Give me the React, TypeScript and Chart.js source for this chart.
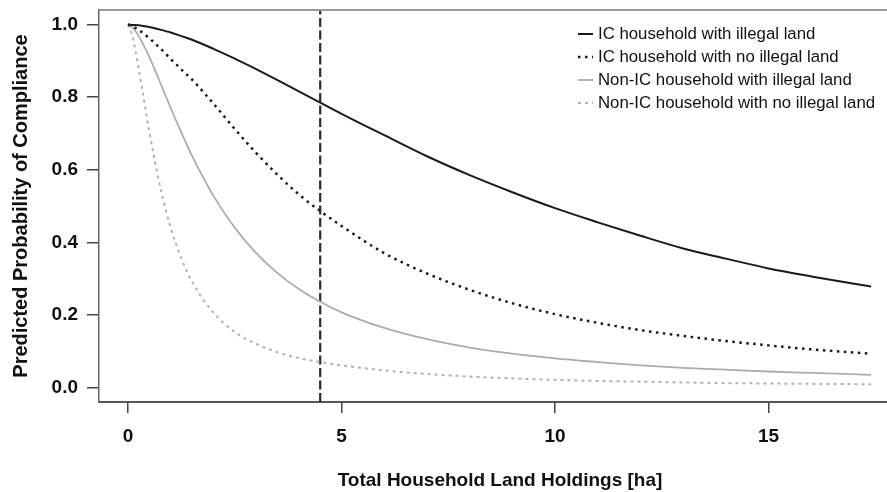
import React, { useEffect, useRef } from "react";
import { Chart, registerables } from "chart.js";

Chart.register(...registerables);

// ---- data ----
const X_VALUES = [0, 0.1, 0.25, 0.5, 0.75, 1, 1.25, 1.5, 2, 2.5, 3, 3.5, 4, 4.5, 5, 6, 7, 8, 9, 10, 11, 12, 13, 14, 15, 16, 17.4];

const IC_ILLEGAL = [1.0, 0.999, 0.998, 0.993, 0.986, 0.978, 0.968, 0.958, 0.933, 0.906, 0.877, 0.847, 0.816, 0.785, 0.754, 0.695, 0.637, 0.585, 0.538, 0.494, 0.455, 0.418, 0.383, 0.355, 0.328, 0.306, 0.278];
const IC_NO_ILLEGAL = [1.0, 0.995, 0.985, 0.962, 0.935, 0.905, 0.876, 0.848, 0.782, 0.712, 0.646, 0.586, 0.532, 0.486, 0.445, 0.37, 0.314, 0.269, 0.232, 0.202, 0.178, 0.158, 0.142, 0.128, 0.116, 0.105, 0.093];
const NONIC_ILLEGAL = [1.0, 0.992, 0.968, 0.91, 0.841, 0.77, 0.702, 0.638, 0.528, 0.44, 0.37, 0.315, 0.271, 0.236, 0.207, 0.164, 0.133, 0.11, 0.093, 0.08, 0.07, 0.061, 0.054, 0.049, 0.044, 0.04, 0.035];
const NONIC_NO_ILLEGAL = [1.0, 0.969, 0.878, 0.704, 0.554, 0.44, 0.355, 0.291, 0.206, 0.153, 0.12, 0.097, 0.081, 0.07, 0.061, 0.047, 0.037, 0.03, 0.025, 0.021, 0.018, 0.016, 0.014, 0.012, 0.011, 0.01, 0.009];

const SERIES_LABELS = [
  "IC household with illegal land",
  "IC household with no illegal land",
  "Non-IC household with illegal land",
  "Non-IC household with no illegal land",
];

const THRESHOLD_X = 4.5;
const X_MIN = -0.68;
const X_MAX = 18.1;
const Y_MIN = -0.04;
const Y_MAX = 1.04;
const X_STEP = 5;
const Y_STEP = 0.2;

const X_TITLE = "Total Household Land Holdings [ha]";
const Y_TITLE = "Predicted Probability of Compliance";

const FONT = "'Liberation Sans', Arial, Helvetica, sans-serif";

const toPoints = (ys: number[]) => X_VALUES.map((x, i) => ({ x, y: ys[i] }));

const legendPlugin = {
  id: "customLegend",
  afterDraw(chart: any) {
    const ctx = chart.ctx;
    ctx.save();
    ctx.font = `16.8px ${FONT}`;
    ctx.textBaseline = "middle";
    ctx.textAlign = "left";
    let row = 0;
    chart.data.datasets.forEach((ds: any) => {
      if (!ds.label) return;
      const y = 34 + row * 23;
      ctx.strokeStyle = ds.borderColor;
      ctx.lineWidth = ds.borderWidth;
      ctx.setLineDash(ds.borderDash || []);
      ctx.beginPath();
      ctx.moveTo(578, y);
      ctx.lineTo(593, y);
      ctx.stroke();
      ctx.setLineDash([]);
      ctx.fillStyle = "#111";
      ctx.fillText(ds.label, 598, y);
      row++;
    });
    ctx.restore();
  },
};

const framePlugin = {
  id: "topFrame",
  afterDraw(chart: any) {
    const { ctx, chartArea } = chart;
    ctx.save();
    ctx.strokeStyle = "#9a9a9a";
    ctx.lineWidth = 2;
    ctx.beginPath();
    ctx.moveTo(chartArea.left, chartArea.top);
    ctx.lineTo(chartArea.right, chartArea.top);
    ctx.stroke();
    ctx.restore();
  },
};

export default function App() {
  const ref = useRef<HTMLCanvasElement>(null);

  useEffect(() => {
    const canvas = ref.current;
    if (!canvas) return;
    const chart = new Chart(canvas, {
      type: "line",
      data: {
        datasets: [
          {
            label: SERIES_LABELS[0],
            data: toPoints(IC_ILLEGAL),
            borderColor: "#1a1a1a",
            borderWidth: 2,
            borderDash: [],
            cubicInterpolationMode: "monotone",
            pointRadius: 0,
          },
          {
            label: SERIES_LABELS[1],
            data: toPoints(IC_NO_ILLEGAL),
            borderColor: "#1a1a1a",
            borderWidth: 2.5,
            borderDash: [2.5, 4.5],
            cubicInterpolationMode: "monotone",
            pointRadius: 0,
          },
          {
            label: SERIES_LABELS[2],
            data: toPoints(NONIC_ILLEGAL),
            borderColor: "#acacac",
            borderWidth: 1.8,
            borderDash: [],
            cubicInterpolationMode: "monotone",
            pointRadius: 0,
          },
          {
            label: SERIES_LABELS[3],
            data: toPoints(NONIC_NO_ILLEGAL),
            borderColor: "#b2b2b2",
            borderWidth: 2,
            borderDash: [3, 4],
            cubicInterpolationMode: "monotone",
            pointRadius: 0,
          },
          {
            label: "",
            data: [
              { x: THRESHOLD_X, y: Y_MIN },
              { x: THRESHOLD_X, y: Y_MAX },
            ],
            borderColor: "#2a2a2a",
            borderWidth: 2.2,
            borderDash: [9, 3.5],
            pointRadius: 0,
          },
        ],
      },
      options: {
        animation: false,
        responsive: false,
        devicePixelRatio: 1,
        layout: { padding: { top: 10, left: 0, right: 0, bottom: 0 } },
        plugins: {
          legend: { display: false },
          tooltip: { enabled: false },
        },
        scales: {
          x: {
            type: "linear",
            min: X_MIN,
            max: X_MAX,
            ticks: {
              stepSize: X_STEP,
              includeBounds: false,
              color: "#111",
              padding: 12,
              font: { family: FONT, size: 19, weight: "bold" },
              callback: (v: any) => String(v),
            },
            grid: {
              drawOnChartArea: false,
              drawTicks: true,
              tickLength: 11,
              color: "#444",
              lineWidth: 1.5,
            },
            border: { display: true, color: "#555", width: 2 },
            title: {
              display: true,
              text: X_TITLE,
              color: "#111",
              font: { family: FONT, size: 19, weight: "bold" },
              padding: { top: 0, bottom: 0 },
            },
            afterFit: (s: any) => {
              s.height = 90;
              s.paddingLeft = 0;
              s.paddingRight = 0;
            },
          },
          y: {
            type: "linear",
            min: Y_MIN,
            max: Y_MAX,
            ticks: {
              stepSize: Y_STEP,
              includeBounds: false,
              color: "#111",
              padding: 9,
              font: { family: FONT, size: 19, weight: "bold" },
              callback: (v: any) => Number(v).toFixed(1),
            },
            grid: {
              drawOnChartArea: false,
              drawTicks: true,
              tickLength: 12,
              color: "#444",
              lineWidth: 1.5,
            },
            border: { display: true, color: "#666", width: 1.5 },
            title: {
              display: true,
              text: Y_TITLE,
              color: "#111",
              font: { family: FONT, size: 20, weight: "bold" },
              padding: { top: 9, bottom: 0 },
            },
            afterFit: (s: any) => {
              s.width = 99;
              s.paddingTop = 0;
              s.paddingBottom = 0;
            },
          },
        },
      },
      plugins: [legendPlugin, framePlugin],
    } as any);
    return () => chart.destroy();
  }, []);

  return (
    <div
      style={{
        position: "fixed",
        left: 0,
        top: 0,
        width: 887,
        height: 492,
        overflow: "hidden",
        background: "#fff",
      }}
    >
      <canvas ref={ref} width={901} height={492} style={{ display: "block", width: 901, height: 492 }} />
    </div>
  );
}
